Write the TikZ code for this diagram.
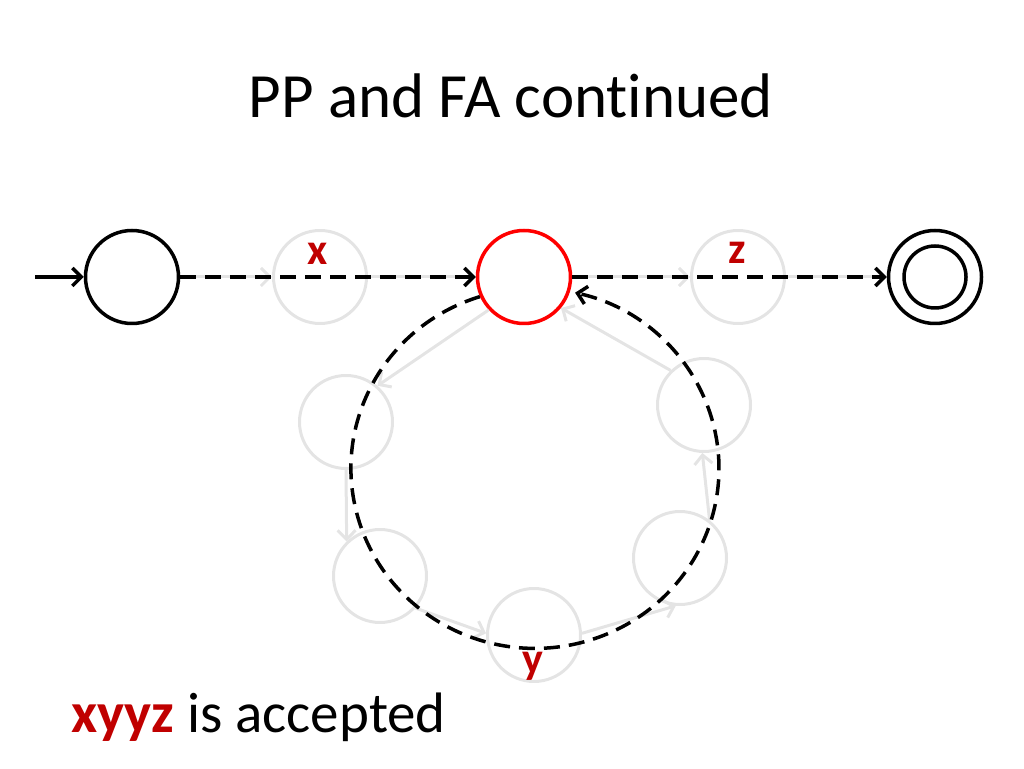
\documentclass[tikz,border=0pt]{standalone}
\usepackage{fontspec}
\setmainfont[Ligatures=NoCommon]{Carlito}
\usetikzlibrary{arrows.meta}
\definecolor{labelred}{RGB}{192,0,0}
\definecolor{ghost}{RGB}{228,228,228}
\tikzset{
  state/.style={circle, draw=black, line width=3.5pt, minimum size=93pt, inner sep=0pt},
  current/.style={state, draw=red},
  ghoststate/.style={circle, draw=ghost, line width=3pt, minimum size=93pt, inner sep=0pt},
  ghostedge/.style={->, draw=ghost, line width=3pt},
  path/.style={->, line width=3.5pt, dash pattern=on 16pt off 9pt},
  symb/.style={text=labelred, font=\fontsize{44}{48}\selectfont\bfseries}
}
\begin{document}
\begin{tikzpicture}[x=1pt, y=1pt, >={Straight Barb[length=9pt,width=18pt]}]
\useasboundingbox (0,0) rectangle (1024,768);

\node[font=\fontsize{63}{70}\selectfont, anchor=base] (title) at (511,650) {PP and FA continued};

% faded path through the loop
\node[ghoststate] (gx) at (320,491) {};
\node[ghoststate] (gz) at (738,491) {};
\node[ghoststate] (lt) at (346,346) {};
\node[ghoststate] (lb) at (380,192) {};
\node[ghoststate] (bt) at (534,133) {};
\node[ghoststate] (rb) at (680,210) {};
\node[ghoststate] (rt) at (704,363) {};

\node[state] (start) at (132,491) {};
\node[current] (mid) at (524,491) {};
\node[state] (acc) at (935,491) {};
\draw[line width=3.5pt] (acc.center) circle[radius=31];
\coordinate (init) at (35,491);

\draw[ghostedge] (start) -- (gx);
\draw[ghostedge] (gx) -- (mid);
\draw[ghostedge] (mid) -- (gz);
\draw[ghostedge] (gz) -- (acc);
\draw[ghostedge] (mid.223) -- (lt.49);
\draw[ghostedge] (lt.270) -- (lb.134);
\draw[ghostedge] (lb.-42) -- (bt.178);
\draw[ghostedge] (bt.2) -- (rb.265);
\draw[ghostedge] (rb.52) -- (rt.268);
\draw[ghostedge] (rt.134) -- (mid.-40);

\node[symb] (lx) at (318,514) {x};
\node[symb] (lz) at (737,515) {z};
\node[symb] (ly) at (533,102) {y};

% the run on xyyz
\draw[->, line width=3.5pt] (init) -- (start);
\draw[path] (start) -- (mid);
\draw[path] (mid) -- (acc);
\draw[path] (mid.204) arc[start angle=107.4, end angle=437.4, x radius=184, y radius=180];

\node[anchor=base west, font=\fontsize{57}{62}\selectfont] (verdict) at (68,36) {\textcolor{labelred}{\bfseries xyyz} is accepted};
\end{tikzpicture}
\end{document}
